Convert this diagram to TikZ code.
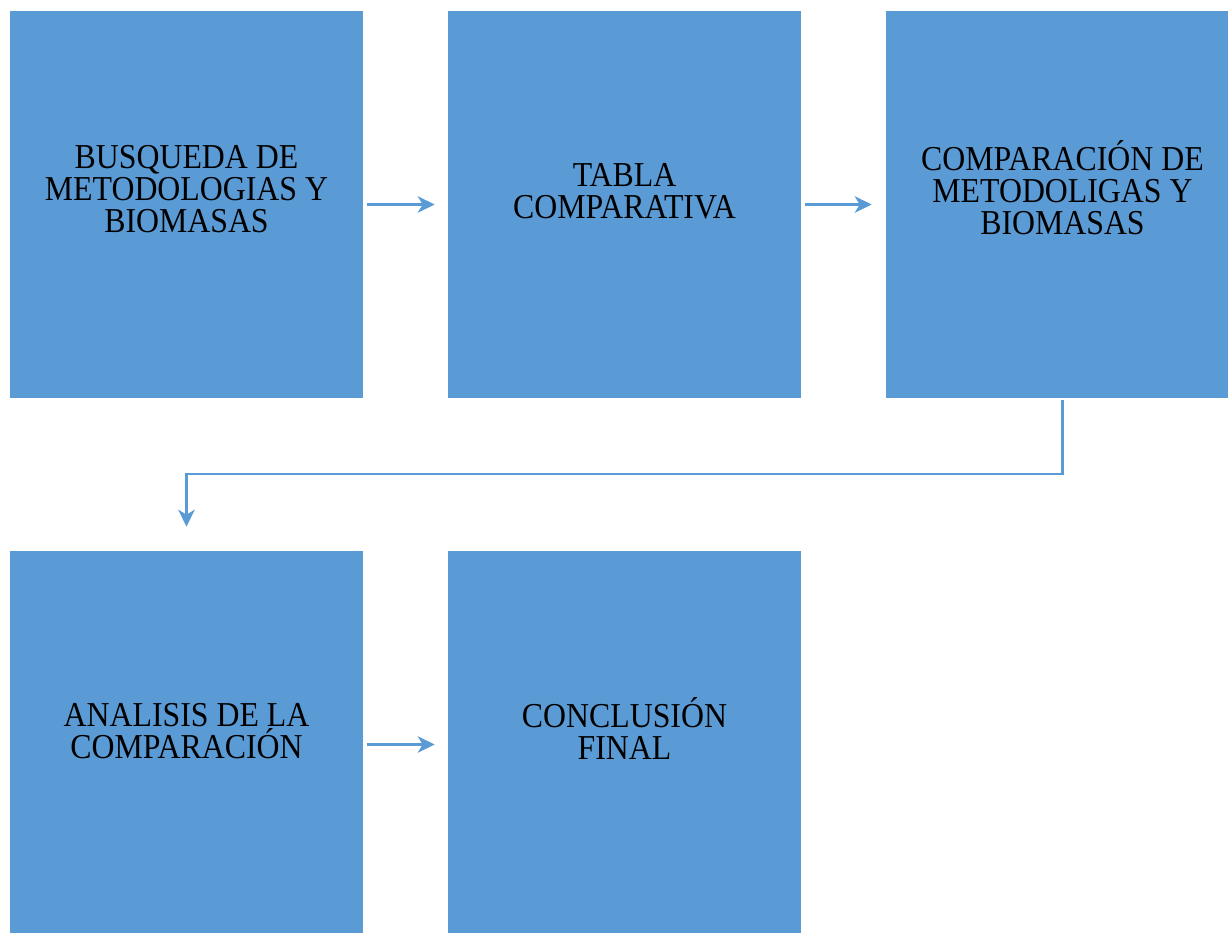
\documentclass[tikz,border=0pt]{standalone}
\usepackage{fontspec}
\setmainfont{Liberation Serif}
\usetikzlibrary{arrows.meta,positioning}

\definecolor{boxblue}{HTML}{5B9BD5}

\tikzset{
  blk/.style={fill=boxblue,draw=none,minimum width=7.06cm,minimum height=7.74cm,inner sep=0pt},
  txt/.style={align=center,text=black,inner sep=0pt,xscale=0.91,transform shape,
    font=\fontsize{19.9pt}{18.4pt}\selectfont},
  flow/.style={draw=boxblue,line width=0.045cm,
    -{Stealth[length=0.34cm,width=0.33cm,inset=0.1cm]}}
}

\begin{document}
\begin{tikzpicture}[x=0.02cm,y=-0.02cm]
  \useasboundingbox (0,0) rectangle (1228,933);

  % upper row
  \node[blk] (busq) at (186.5,204.5) {};
  \node[blk] (tabla) at (624.5,204.5) {};
  \node[blk] (comp) at (1062.5,204.5) {};
  % lower row
  \node[blk] (anal) at (186.5,744.5) {};
  \node[blk] (concl) at (624.5,744.5) {};

  \node[txt] (busqt) at ([yshift=0.31cm]busq.center) {BUSQUEDA DE\\METODOLOGIAS Y\\BIOMASAS};
  \node[txt] (tablat) at ([yshift=0.26cm]tabla.center) {TABLA\\COMPARATIVA};
  \node[txt] (compt) at ([yshift=0.34cm]comp.center) {COMPARACIÓN DE\\METODOLIGAS Y\\BIOMASAS};
  \node[txt] (analt) at ([yshift=0.27cm]anal.center) {ANALISIS DE LA\\COMPARACIÓN};
  \node[txt] (conclt) at ([yshift=0.32cm]concl.center) {CONCLUSIÓN\\FINAL};

  \draw[flow,shorten <=0.08cm,shorten >=0.26cm] (busq.east) -- (tabla.west);
  \draw[flow,shorten <=0.08cm,shorten >=0.28cm] (tabla.east) -- (comp.west);
  \draw[flow,shorten <=0.04cm,shorten >=0.48cm] (comp.south) -- ++(0,76) -| (anal.north);
  \draw[flow,shorten <=0.08cm,shorten >=0.26cm] (anal.east) -- (concl.west);
\end{tikzpicture}
\end{document}
